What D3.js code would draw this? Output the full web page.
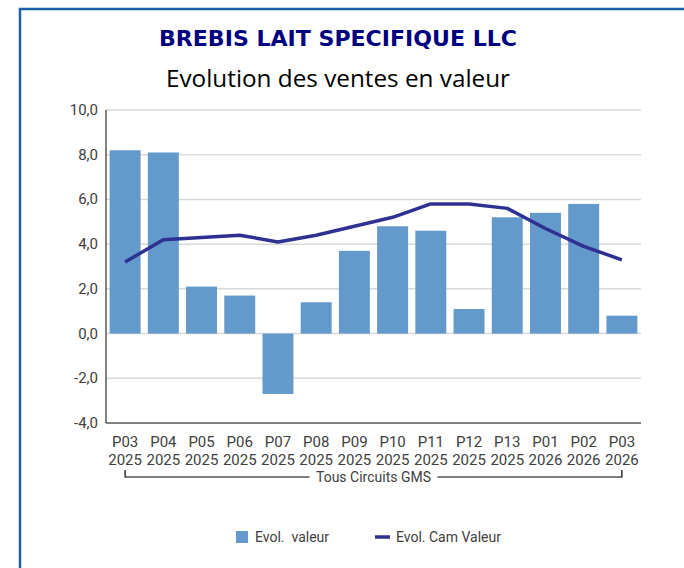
<!DOCTYPE html>
<html>
<head>
<meta charset="utf-8">
<script src="https://cdn.jsdelivr.net/npm/d3@7"></script>
<style>
  body { margin: 0; background: #fff; }
  svg { display: block; font-family: Roboto, "Noto Sans", sans-serif; }
  .grid line { stroke: #d9d9d9; stroke-width: 1.5; }
  .tick-label { fill: #404040; font-size: 15px; }
</style>
</head>
<body>
<svg id="chart" width="684" height="568"></svg>
<script>
  // Periods on the x axis (two lines each)
  const periods = ["P03", "P04", "P05", "P06", "P07", "P08", "P09", "P10", "P11", "P12", "P13", "P01", "P02", "P03"];
  const years = ["2025", "2025", "2025", "2025", "2025", "2025", "2025", "2025", "2025", "2025", "2025", "2026", "2026", "2026"];
  // Evol. valeur (bars)
  const evolValeur = [8.2, 8.1, 2.1, 1.7, -2.7, 1.4, 3.7, 4.8, 4.6, 1.1, 5.2, 5.4, 5.8, 0.8];
  // Evol. Cam Valeur (line)
  const evolCam = [3.2, 4.2, 4.3, 4.4, 4.1, 4.4, 4.8, 5.2, 5.8, 5.8, 5.6, 4.7, 3.9, 3.3];
  const yTicks = [-4, -2, 0, 2, 4, 6, 8, 10];

(function () {
  "use strict";

  const BAR_COLOR = "#6399cb";
  const LINE_COLOR = "#2e3192";

  const svg = d3.select("#chart");
  const pl = 106, pr = 641, pt = 110, pb = 423;

  // frame (top + left edge)
  svg.append("path")
    .attr("d", "M20,568 L20,9 L684,9")
    .attr("fill", "none")
    .attr("stroke", "#1f5fa8")
    .attr("stroke-width", 2.5);

  // titles
  svg.append("text")
    .attr("x", 338).attr("y", 46)
    .attr("text-anchor", "middle")
    .attr("fill", "#000080")
    .attr("font-family", "'DejaVu Sans', sans-serif")
    .attr("font-weight", "bold")
    .attr("font-size", 21)
    .attr("textLength", 358)
    .attr("lengthAdjust", "spacingAndGlyphs")
    .text("BREBIS LAIT SPECIFIQUE LLC");

  svg.append("text")
    .attr("x", 338).attr("y", 87)
    .attr("text-anchor", "middle")
    .attr("fill", "#000")
    .attr("font-family", "'Open Sans', sans-serif")
    .attr("font-size", 23)
    .attr("textLength", 344)
    .attr("lengthAdjust", "spacingAndGlyphs")
    .text("Evolution des ventes en valeur");

  const keys = periods.map((p, i) => i);
  const x = d3.scaleBand().domain(keys).range([pl, pr]).paddingInner(0.19).paddingOuter(0.095);
  const y = d3.scaleLinear().domain([-4, 10]).range([pb, pt]);

  // gridlines
  svg.append("g").attr("class", "grid")
    .selectAll("line")
    .data(yTicks.filter((t) => t !== -4))
    .join("line")
    .attr("x1", pl).attr("x2", pr)
    .attr("y1", (d) => y(d)).attr("y2", (d) => y(d));

  // bars
  svg.append("g")
    .selectAll("rect")
    .data(evolValeur)
    .join("rect")
    .attr("x", (d, i) => x(i))
    .attr("width", x.bandwidth())
    .attr("y", (d) => y(Math.max(0, d)))
    .attr("height", (d) => Math.abs(y(d) - y(0)))
    .attr("fill", BAR_COLOR);

  // line
  const line = d3.line()
    .x((d, i) => x(i) + x.bandwidth() / 2)
    .y((d) => y(d));
  svg.append("path")
    .datum(evolCam)
    .attr("d", line)
    .attr("fill", "none")
    .attr("stroke", LINE_COLOR)
    .attr("stroke-width", 3.5)
    .attr("stroke-linejoin", "round");

  // axes lines
  svg.append("line")
    .attr("x1", pl).attr("x2", pl).attr("y1", pt).attr("y2", pb)
    .attr("stroke", "#595959").attr("stroke-width", 1.5);
  svg.append("line")
    .attr("x1", pl).attr("x2", pr).attr("y1", pb).attr("y2", pb)
    .attr("stroke", "#595959").attr("stroke-width", 1.5);

  // y tick labels
  const fmt = (v) => v.toFixed(1).replace(".", ",");
  svg.append("g")
    .selectAll("text")
    .data(yTicks)
    .join("text")
    .attr("class", "tick-label")
    .attr("x", pl - 8)
    .attr("y", (d) => y(d) + 5)
    .attr("text-anchor", "end")
    .text(fmt);

  // x tick labels
  const xl = svg.append("g")
    .selectAll("g")
    .data(keys)
    .join("g")
    .attr("transform", (i) => `translate(${x(i) + x.bandwidth() / 2},0)`);
  xl.append("text").attr("class", "tick-label").attr("text-anchor", "middle")
    .attr("y", 447).text((i) => periods[i]);
  xl.append("text").attr("class", "tick-label").attr("text-anchor", "middle")
    .attr("y", 465).text((i) => years[i]);

  // group bracket
  const gx0 = x(0) + x.bandwidth() / 2;
  const gx1 = x(keys.length - 1) + x.bandwidth() / 2;
  const gy = 477;
  const gmid = (gx0 + gx1) / 2;
  svg.append("path")
    .attr("d", `M${gx0},${gy - 7} L${gx0},${gy} L${gmid - 64},${gy} M${gmid + 64},${gy} L${gx1},${gy} L${gx1},${gy - 7}`)
    .attr("fill", "none").attr("stroke", "#000").attr("stroke-width", 1.2);
  svg.append("text")
    .attr("x", gmid).attr("y", gy + 5)
    .attr("text-anchor", "middle")
    .attr("fill", "#404040").attr("font-size", 14)
    .text("Tous Circuits GMS");

  // legend
  const lg = svg.append("g").attr("font-size", 14).attr("fill", "#404040");
  lg.append("rect").attr("x", 236).attr("y", 531).attr("width", 12).attr("height", 12).attr("fill", BAR_COLOR);
  lg.append("text").attr("x", 255).attr("y", 542).attr("xml:space", "preserve").text("Evol.  valeur");
  lg.append("line").attr("x1", 375).attr("x2", 390).attr("y1", 537).attr("y2", 537)
    .attr("stroke", LINE_COLOR).attr("stroke-width", 3.5);
  lg.append("text").attr("x", 396).attr("y", 542).text("Evol. Cam Valeur");
})();
</script>
</body>
</html>
